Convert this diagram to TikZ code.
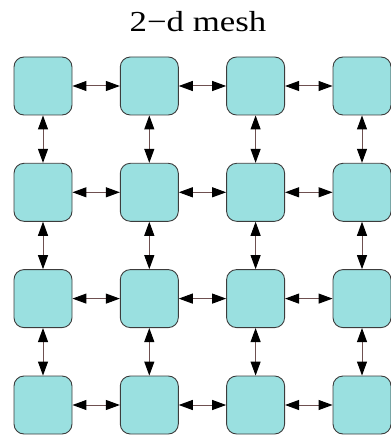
\documentclass[tikz,border=0pt]{standalone}
\usepackage{fontspec}
\setmainfont{Liberation Serif}
\usetikzlibrary{arrows.meta}
\definecolor{meshfill}{RGB}{154,224,224}
\definecolor{meshedge}{RGB}{60,60,60}
\definecolor{linkcol}{RGB}{110,80,80}
\begin{document}
\begin{tikzpicture}[x=1pt,y=-1pt,
  cell/.style={draw=meshedge, line width=0.9pt, fill=meshfill,
    rounded corners=10pt, minimum width=58pt, minimum height=58pt,
    inner sep=0pt},
  link/.style={draw=linkcol, line width=1pt,
    >={Triangle[length=14pt,width=10pt,fill=black,color=black]}, <->}]
  \useasboundingbox (0,0) rectangle (390,435);
  \node[font=\fontsize{29}{32}\selectfont, anchor=base, inner sep=0pt] (title) at (198,31.7)
    {\scalebox{1.2}[1]{2\textminus d mesh}};
  % 4x4 grid of processing cells
  \foreach \i/\x in {1/43,2/149.3,3/255.6,4/362}{
    \foreach \j/\y in {1/86,2/192.3,3/298.6,4/405}{
      \node[cell] (c\i\j) at (\x,\y) {};
    }
  }
  % horizontal links
  \foreach \i [evaluate=\i as \n using int(\i+1)] in {1,2,3}{
    \foreach \j in {1,2,3,4}{
      \draw[link] (c\i\j.east) -- (c\n\j.west);
    }
  }
  % vertical links
  \foreach \i in {1,2,3,4}{
    \foreach \j [evaluate=\j as \n using int(\j+1)] in {1,2,3}{
      \draw[link] (c\i\j.south) -- (c\i\n.north);
    }
  }
\end{tikzpicture}
\end{document}
